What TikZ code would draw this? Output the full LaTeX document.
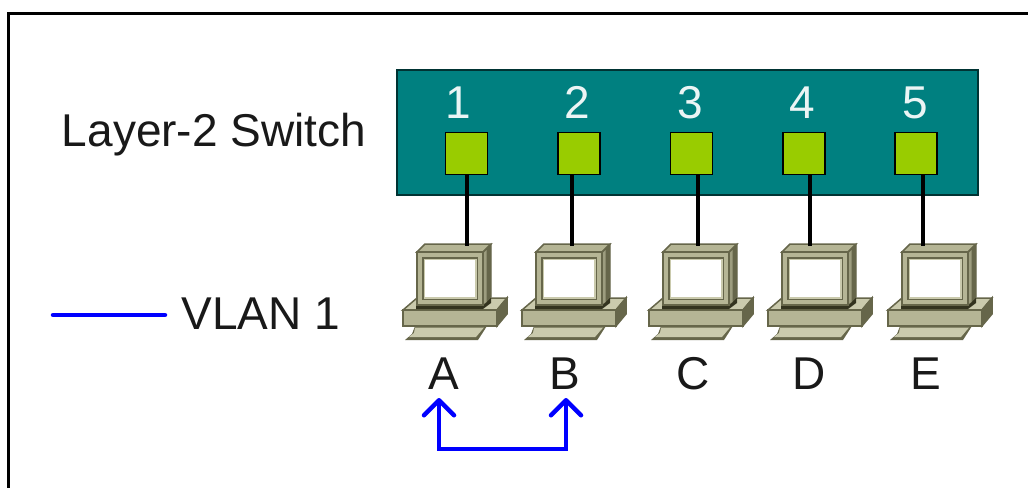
\documentclass[tikz,border=0pt]{standalone}
\usepackage{fontspec}
\setmainfont{Liberation Sans}
\usetikzlibrary{arrows.meta}
\definecolor{teal0}{HTML}{008080}
\definecolor{port0}{HTML}{99CC00}
\definecolor{pcl}{HTML}{CACAAD}
\definecolor{pcm}{HTML}{B5B595}
\definecolor{pcd}{HTML}{66664A}
\definecolor{pcx}{HTML}{33331F}
\definecolor{vlan}{HTML}{0000FF}
\tikzset{
  x=1pt,y=-1pt,
  label big/.style={inner sep=0pt,anchor=base,font=\fontsize{46}{46}\selectfont,text=black!90},
  portnum/.style={label big,text=white!92!teal0},
  switchbox/.style={draw=black!60!teal0,line width=2pt,fill=teal0},
  portbox/.style={draw=black,line width=1.5pt,fill=port0,minimum size=42pt,inner sep=0pt},
  cable/.style={draw=black,line width=4pt},
  vlanline/.style={draw=vlan,line width=4.5pt},
  frameline/.style={draw=black,line width=3pt},
  pc/.pic={
    % base
    \path[pcl,draw=pcd,line width=1.5pt,fill] (0,46)--(14,34)--(104,34)--(94,46)--cycle;
    \path[pcd,draw=pcd,line width=1.5pt,fill] (94,46)--(104,34)--(104,50)--(94,62)--cycle;
    \path[pcm,draw=pcd,line width=1.5pt,fill] (0,46)--(94,46)--(94,62)--(0,62)--cycle;
    % keyboard
    \path[pcd,fill] (12,62)--(84,62)--(75,76)--(2,76)--(9,70)--cycle;
    \path[pcl,fill] (12,63.5)--(81,63.5)--(73,73)--(6,73)--(11,69)--cycle;
    % monitor
    \path[pcx,fill] (13,40)--(80,40)--(88,33)--(88,39)--(80,45)--(13,45)--cycle;
    \path[pcm,draw=pcd,line width=1.5pt,fill] (22,-20)--(88,-20)--(80,-12)--(14,-12)--cycle;
    \path[pcd,draw=pcd,line width=1pt,fill] (80,-12)--(88,-20)--(88,33)--(80,41)--cycle;
    \path[fill=pcm!70!pcd] (80.5,-11)--(83.5,-14)--(83.5,38)--(80.5,40)--cycle;
    \path[pcm,draw=pcd,line width=1.8pt,fill] (14,-12)--(80,-12)--(80,41)--(14,41)--cycle;
    \path[fill=pcd] (19,-7)--(75,-7)--(75,36)--(19,36)--cycle;
    \path[fill=pcl] (20.5,-5.5)--(73.5,-5.5)--(73.5,34.5)--(20.5,34.5)--cycle;
    \path[fill=white] (22,-4)--(72,-4)--(72,33)--(22,33)--cycle;
  }
}
\begin{document}
\begin{tikzpicture}
\useasboundingbox (0,0) rectangle (1028,488);
\fill[white] (0,0) rectangle (1028,488);
\coordinate (fa) at (1028,13);
\coordinate (fb) at (8,13);
\coordinate (fc) at (8,488);
\path[frameline] (fa) -- (fb) -- (fc);

\node[switchbox,minimum width=581pt,minimum height=125pt,inner sep=0pt] (switch) at (687.5,132.5) {};
\node[label big] (title) at (214,146) {Layer-2 Switch};

\node[portnum] (n1) at (458,118) {1};
\node[portnum] (n2) at (577,118) {2};
\node[portnum] (n3) at (690,118) {3};
\node[portnum] (n4) at (802,118) {4};
\node[portnum] (n5) at (915,118) {5};

\node[portbox] (port1) at (466.5,153.5) {};
\node[portbox] (port2) at (579,153.5) {};
\node[portbox] (port3) at (691.5,153.5) {};
\node[portbox] (port4) at (804,153.5) {};
\node[portbox] (port5) at (916,153.5) {};

\pic at (403,264) {pc};
\pic at (522,264) {pc};
\pic at (649,264) {pc};
\pic at (768,264) {pc};
\pic at (888,264) {pc};

\coordinate (top1) at (467,246);
\coordinate (top2) at (572,246);
\coordinate (top3) at (698,246);
\coordinate (top4) at (810,246);
\coordinate (top5) at (923,246);
\path[cable] (top1 |- port1.south) -- (top1);
\path[cable] (top2 |- port2.south) -- (top2);
\path[cable] (top3 |- port3.south) -- (top3);
\path[cable] (top4 |- port4.south) -- (top4);
\path[cable] (top5 |- port5.south) -- (top5);

\coordinate (lega) at (53,315);
\coordinate (legb) at (165,315);
\path[vlanline,line cap=round] (lega) -- (legb);
\node[label big] (vlanlabel) at (261,329) {VLAN 1};

\node[label big] (A) at (444,389) {A};
\node[label big] (B) at (565,389) {B};
\node[label big] (C) at (693,389) {C};
\node[label big] (D) at (809,389) {D};
\node[label big] (E) at (926,389) {E};

\coordinate (tipA) at (439,398);
\coordinate (tipB) at (566,398);
\coordinate (bot) at (500,449);
\path[vlanline,line join=miter,
  {Straight Barb[length=15pt,width=30pt,line width=4.5pt,round]}-{Straight Barb[length=15pt,width=30pt,line width=4.5pt,round]}]
  (tipA) -- (tipA |- bot) -- (tipB |- bot) -- (tipB);
\end{tikzpicture}
\end{document}
